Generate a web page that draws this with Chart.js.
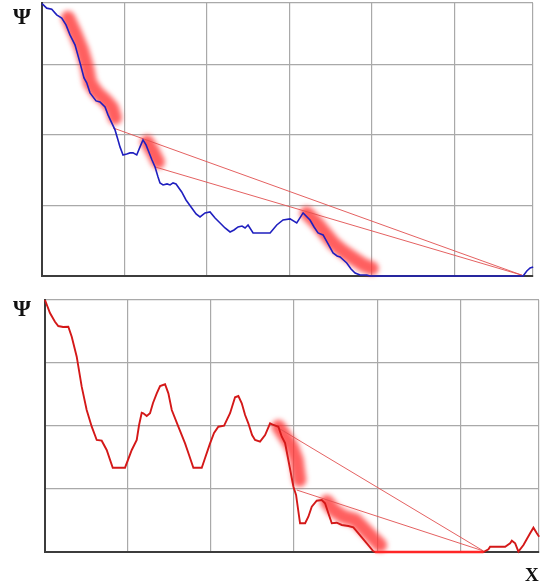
<!DOCTYPE html>
<html>
<head>
<meta charset="utf-8">
<script src="https://cdn.jsdelivr.net/npm/chart.js@4/dist/chart.umd.min.js"></script>
<style>
  html, body { margin: 0; padding: 0; background: #fff; }
  body { width: 541px; height: 583px; position: relative; overflow: hidden; }
  .box { position: absolute; left: 0; }
  .lbl { position: absolute; font-family: "Liberation Serif", "DejaVu Serif", serif; font-weight: bold; line-height: 1; color: #111; }
</style>
</head>
<body>
<div class="box" style="top:0;width:541px;height:290px"><canvas id="top" width="541" height="290"></canvas></div>
<div class="box" style="top:290px;width:541px;height:293px"><canvas id="bot" width="541" height="293"></canvas></div>
<div class="lbl" style="left:13px;top:5px;font-size:23px">Ψ</div>
<div class="lbl" style="left:13px;top:297px;font-size:23px">Ψ</div>
<div class="lbl" style="left:525px;top:565px;font-size:19px">X</div>
<script>
// ---------- grid / tick values ----------
const xGridValues = [0, 1, 2, 3, 4, 5, 5.95];
const topYGridValues = [0, 1, 2, 3, 3.87];
const botYGridValues = [0, 1, 2, 3, 4];

// ---------- top panel: blue curve ----------
const topCurveX = [0, 0.057, 0.118, 0.178, 0.239, 0.291, 0.339, 0.4, 0.461, 0.509, 0.542, 0.582, 0.618, 0.655, 0.703, 0.764, 0.8, 0.845, 0.885, 0.921, 0.945, 0.982, 1.027, 1.067, 1.103, 1.148, 1.188, 1.224, 1.261, 1.285, 1.333, 1.37, 1.406, 1.43, 1.467, 1.515, 1.552, 1.588, 1.624, 1.693, 1.745, 1.815, 1.867, 1.915, 1.976, 2.036, 2.097, 2.158, 2.218, 2.279, 2.327, 2.376, 2.424, 2.461, 2.497, 2.558, 2.642, 2.764, 2.845, 2.921, 3.006, 3.087, 3.164, 3.248, 3.297, 3.345, 3.406, 3.467, 3.527, 3.576, 3.612, 3.693, 3.745, 3.794, 3.855, 3.936, 3.976, 5.552, 5.794, 5.83, 5.875, 5.915, 5.952];
const topCurveY = [3.86, 3.797, 3.783, 3.702, 3.655, 3.56, 3.418, 3.277, 3.021, 2.809, 2.738, 2.596, 2.539, 2.482, 2.468, 2.397, 2.284, 2.17, 2.071, 1.929, 1.83, 1.716, 1.73, 1.745, 1.745, 1.716, 1.83, 1.929, 1.858, 1.787, 1.645, 1.546, 1.404, 1.319, 1.291, 1.305, 1.291, 1.319, 1.305, 1.191, 1.078, 0.965, 0.879, 0.837, 0.894, 0.908, 0.823, 0.752, 0.681, 0.624, 0.652, 0.695, 0.709, 0.681, 0.723, 0.61, 0.61, 0.61, 0.723, 0.794, 0.809, 0.752, 0.894, 0.794, 0.695, 0.61, 0.582, 0.454, 0.326, 0.284, 0.27, 0.184, 0.099, 0.043, 0.014, 0.014, 0, 0, 0, 0, 0.071, 0.113, 0.128];

// top panel highlight bands
const topBand1X = [0.315, 0.4, 0.485, 0.545, 0.582, 0.667, 0.764, 0.848, 0.885];
const topBand1Y = [3.66, 3.447, 3.206, 2.965, 2.738, 2.596, 2.496, 2.383, 2.241];
const topBand2X = [1.273, 1.345, 1.406];
const topBand2Y = [1.901, 1.759, 1.617];
const topBand3X = [3.208, 3.33, 3.43, 3.531, 3.652, 3.773, 3.895, 3.996];
const topBand3Y = [0.889, 0.748, 0.606, 0.464, 0.345, 0.251, 0.156, 0.109];

// top panel tangent lines
const topLineAX = [0.861, 5.82];
const topLineAY = [2.099, 0.01];
const topLineBX = [1.37, 5.82];
const topLineBY = [1.546, 0.01];

// ---------- bottom panel: red curve ----------
const botCurveX = [0, 0.06, 0.12, 0.16, 0.217, 0.281, 0.322, 0.382, 0.442, 0.502, 0.563, 0.623, 0.683, 0.743, 0.816, 0.964, 1.045, 1.105, 1.133, 1.165, 1.184, 1.225, 1.265, 1.301, 1.346, 1.386, 1.446, 1.486, 1.527, 1.606, 1.687, 1.735, 1.787, 1.888, 1.928, 1.988, 2.036, 2.088, 2.157, 2.229, 2.289, 2.329, 2.37, 2.41, 2.449, 2.494, 2.53, 2.59, 2.651, 2.711, 2.751, 2.811, 2.852, 2.892, 2.931, 2.992, 3.024, 3.072, 3.133, 3.172, 3.213, 3.273, 3.334, 3.373, 3.413, 3.454, 3.514, 3.575, 3.654, 3.714, 3.775, 3.876, 3.952, 3.976, 5.281, 5.341, 5.361, 5.542, 5.602, 5.623, 5.663, 5.702, 5.763, 5.843, 5.883, 5.924, 5.952];
const botCurveY = [4, 3.794, 3.655, 3.587, 3.571, 3.576, 3.417, 3.1, 2.624, 2.254, 1.989, 1.778, 1.767, 1.619, 1.338, 1.338, 1.619, 1.778, 2.016, 2.211, 2.202, 2.159, 2.202, 2.365, 2.519, 2.635, 2.662, 2.519, 2.254, 1.989, 1.725, 1.54, 1.338, 1.338, 1.492, 1.725, 1.889, 1.989, 2.005, 2.202, 2.456, 2.476, 2.36, 2.175, 2.043, 1.857, 1.778, 1.751, 1.857, 2.043, 2.016, 1.989, 1.83, 1.73, 1.46, 1.037, 0.905, 0.456, 0.456, 0.56, 0.719, 0.814, 0.825, 0.773, 0.614, 0.456, 0.465, 0.429, 0.413, 0.392, 0.297, 0.138, 0.016, 0, 0, 0.043, 0.084, 0.084, 0.138, 0.179, 0.138, 0.005, 0.111, 0.297, 0.386, 0.297, 0.243];

// bottom panel flat (zero) stretch
const botFlatX = [3.976, 5.281];
const botFlatY = [0, 0];

// bottom panel highlight bands
const botBand1X = [2.811, 2.892, 2.972, 3.032, 3.052, 3.064];
const botBand1Y = [1.989, 1.83, 1.671, 1.46, 1.249, 1.143];
const botBand2X = [3.394, 3.474, 3.594, 3.735, 3.835, 3.955, 4.036];
const botBand2Y = [0.798, 0.667, 0.56, 0.508, 0.376, 0.217, 0.111];

// bottom panel tangent lines
const botLineCX = [2.751, 5.281];
const botLineCY = [2.016, 0.016];
const botLineDX = [3.032, 5.281];
const botLineDY = [0.984, 0.016];

// ---------- helpers ----------
function pts(xs, ys) { return xs.map((x, i) => ({ x: x, y: ys[i] })); }

const blurPlugin = {
  id: 'blurBands',
  beforeDatasetDraw(chart, args) {
    const ds = chart.data.datasets[args.index];
    if (ds.blurBand) { chart.ctx.save(); chart.ctx.filter = 'blur(2.6px)'; }
  },
  afterDatasetDraw(chart, args) {
    const ds = chart.data.datasets[args.index];
    if (ds.blurBand) { chart.ctx.restore(); }
  }
};

function band(xs, ys) {
  return { data: pts(xs, ys), borderColor: 'rgba(255,50,50,0.78)', borderWidth: 14,
    borderCapStyle: 'round', borderJoinStyle: 'round', pointRadius: 0, order: 3, blurBand: true, clip: false };
}
function tangent(xs, ys) {
  return { data: pts(xs, ys), borderColor: 'rgba(225,80,80,0.9)', borderWidth: 1, pointRadius: 0, order: 2, clip: false };
}

function makeOptions(yMax, yGrid, pad) {
  const gridCfg = { color: '#a9a9a9', lineWidth: 1.2, drawTicks: false };
  const borderCfg = { display: true, color: '#3c3c3c', width: 2 };
  return {
    responsive: false, animation: false, devicePixelRatio: 1,
    layout: { padding: pad },
    plugins: { legend: { display: false }, tooltip: { enabled: false } },
    elements: { line: { tension: 0 } },
    scales: {
      x: { type: 'linear', min: 0, max: 5.95, grid: gridCfg, border: borderCfg,
        ticks: { display: false },
        afterBuildTicks: s => { s.ticks = xGridValues.map(v => ({ value: v })); } },
      y: { type: 'linear', min: 0, max: yMax, grid: gridCfg, border: borderCfg,
        ticks: { display: false },
        afterBuildTicks: s => { s.ticks = yGrid.map(v => ({ value: v })); } }
    }
  };
}

new Chart(document.getElementById('top'), {
  type: 'line',
  data: { datasets: [
    band(topBand1X, topBand1Y), band(topBand2X, topBand2Y), band(topBand3X, topBand3Y),
    tangent(topLineAX, topLineAY), tangent(topLineBX, topLineBY),
    { data: pts(topCurveX, topCurveY), borderColor: '#1f1fbf', borderWidth: 1.6, pointRadius: 0, order: 1, clip: false }
  ] },
  options: makeOptions(3.87, topYGridValues, { left: 42, top: 3, right: 8, bottom: 14 }),
  plugins: [blurPlugin]
});

new Chart(document.getElementById('bot'), {
  type: 'line',
  data: { datasets: [
    band(botBand1X, botBand1Y), band(botBand2X, botBand2Y),
    tangent(botLineCX, botLineCY), tangent(botLineDX, botLineDY),
    { data: pts(botFlatX, botFlatY), borderColor: '#ff2626', borderWidth: 2.6, pointRadius: 0, order: 0, clip: false },
    { data: pts(botCurveX, botCurveY), borderColor: '#d41818', borderWidth: 1.9, pointRadius: 0, order: 1, clip: false }
  ] },
  options: makeOptions(4, botYGridValues, { left: 45, top: 10, right: 2, bottom: 31 }),
  plugins: [blurPlugin]
});
</script>
</body>
</html>
